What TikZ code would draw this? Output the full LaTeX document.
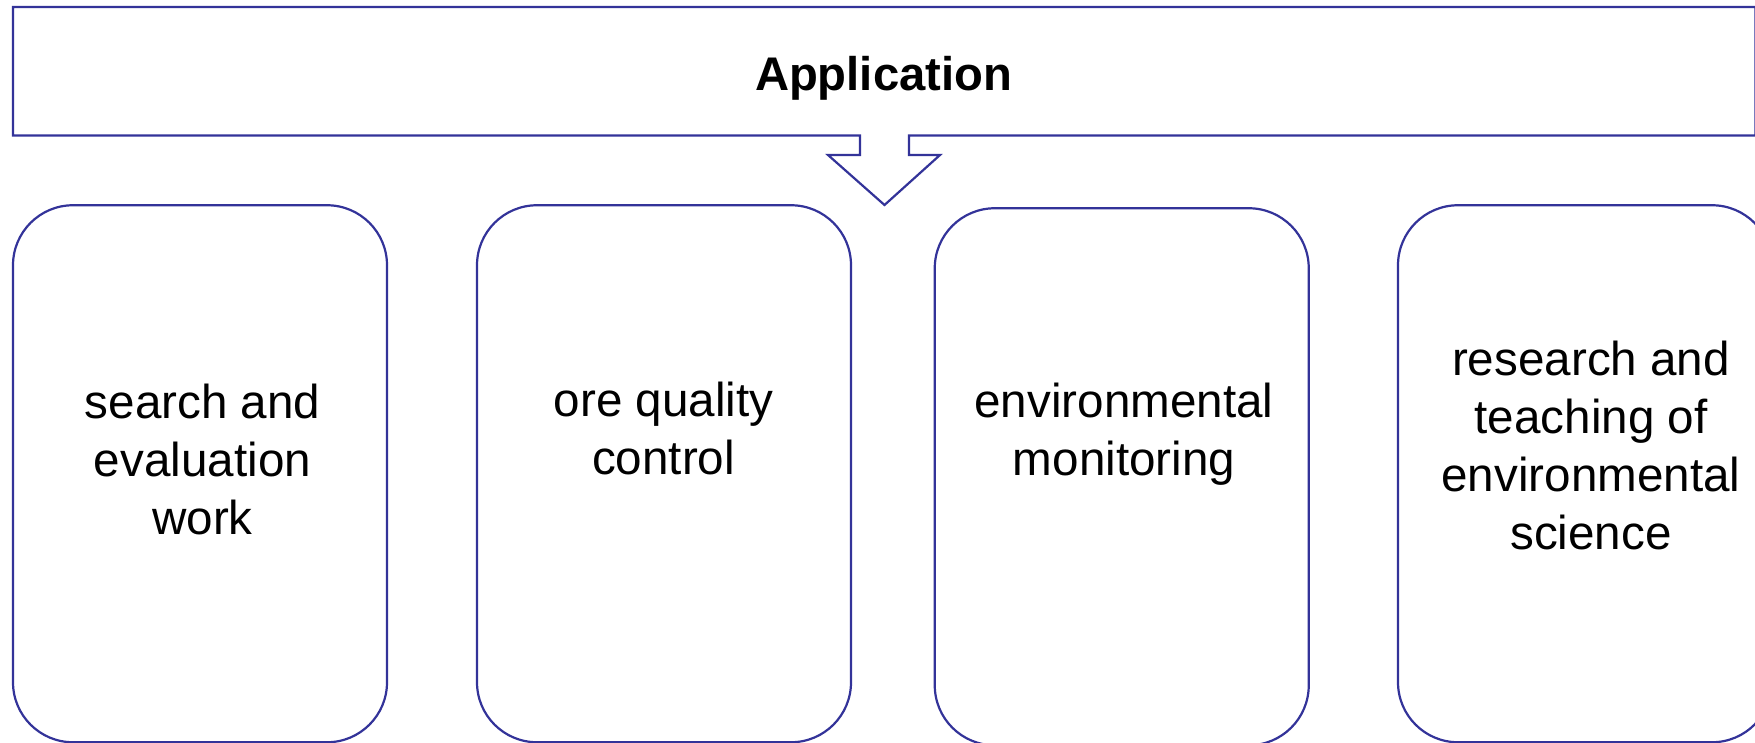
\documentclass[tikz,border=0pt]{standalone}
\usepackage{fontspec}
\setmainfont{Liberation Sans}
\definecolor{edge}{RGB}{51,51,153}
\tikzset{
  box/.style={draw=edge, line width=1.1pt, rounded corners=30pt, inner sep=0pt,
              minimum width=187pt, minimum height=268.5pt},
  lbl/.style={align=center, inner sep=0pt, text=black,
              font=\fontsize{23.8}{29}\selectfont},
  ttl/.style={lbl, font=\fontsize{23.6}{29}\selectfont\bfseries},
  banner/.style={draw=edge, line width=1.1pt, line join=miter}
}
\begin{document}
\begin{tikzpicture}[x=0.5pt,y=-0.5pt]
\useasboundingbox (0,0) rectangle (1755,743);
\clip (0,0) rectangle (1755,743);
% banner with block arrow
\draw[banner] (13,7) -- (1755.5,7) -- (1755.5,135.5) -- (909,135.5) -- (909,155)
  -- (940,155) -- (884.5,205) -- (828,155) -- (860,155) -- (860,135.5)
  -- (13,135.5) -- cycle;
\node[ttl] (title) at (883.5,78.5) {\strut Application};
% boxes
\node[box] (b1) at (200,473.75) {};
\node[box] (b2) at (664,473.75) {};
\node[box] (b3) at (1121.75,476.75) {};
\node[box] (b4) at (1585,473.75) {};
% texts
\node[lbl] (t1) at (202.5,464.5) {\strut search and\\\strut evaluation\\\strut work};
\node[lbl] (t2) at (663.5,433.5) {\strut ore quality\\\strut control};
\node[lbl] (t3) at (1124,435) {\strut environmental\\\strut monitoring};
\node[lbl] (t4) at (1591,450.5) {\strut research and\\\strut teaching of\\\strut environmental\\\strut science};
\end{tikzpicture}
\end{document}
